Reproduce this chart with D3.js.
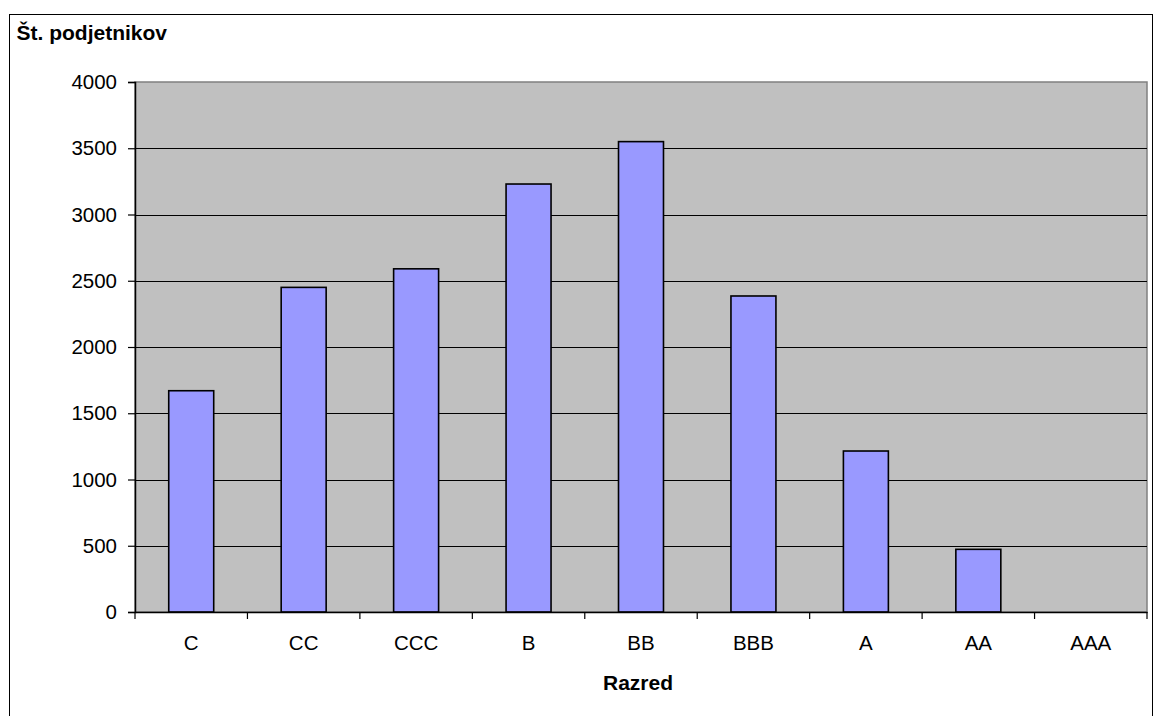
<!DOCTYPE html>
<html>
<head>
<meta charset="utf-8">
<script src="https://cdn.jsdelivr.net/npm/d3@7"></script>
<style>
  html, body { margin: 0; padding: 0; background: #fff; }
  svg { display: block; }
  text { font-family: Arial, "Liberation Sans", sans-serif; fill: #000; }
</style>
</head>
<body>
<svg id="chart" width="1154" height="716"></svg>
<script>
// Number of entrepreneurs per rating class
const categories = ["C", "CC", "CCC", "B", "BB", "BBB", "A", "AA", "AAA"];
const counts = [1670, 2450, 2590, 3230, 3550, 2385, 1215, 473, 0];
const yTicks = [0, 500, 1000, 1500, 2000, 2500, 3000, 3500, 4000];
const yTitle = "Št. podjetnikov";
const xTitle = "Razred";

const svg = d3.select("#chart");

// Chart frame
svg.append("rect")
  .attr("x", 9.5).attr("y", 14.5)
  .attr("width", 1143).attr("height", 720)
  .attr("fill", "#fff").attr("stroke", "#000").attr("stroke-width", 1);

const plot = { left: 135, right: 1147, top: 82, bottom: 612 };

const x = d3.scaleBand()
  .domain(categories)
  .range([plot.left, plot.right])
  .paddingInner(0.6)
  .paddingOuter(0.3);

const y = d3.scaleLinear()
  .domain([0, 4000])
  .range([plot.bottom, plot.top]);

// Plot area background
svg.append("rect")
  .attr("x", plot.left).attr("y", plot.top)
  .attr("width", plot.right - plot.left).attr("height", plot.bottom - plot.top)
  .attr("fill", "#c0c0c0").attr("stroke", "#808080").attr("stroke-width", 1.5);

// Horizontal gridlines
svg.append("g")
  .selectAll("line")
  .data(yTicks.filter(t => t > 0 && t < 4000))
  .join("line")
  .attr("x1", plot.left).attr("x2", plot.right)
  .attr("y1", d => Math.round(y(d)) + 0.5).attr("y2", d => Math.round(y(d)) + 0.5)
  .attr("stroke", "#000").attr("stroke-width", 1);

// Bars
svg.append("g")
  .selectAll("rect")
  .data(categories.map((c, i) => ({ c, v: counts[i] })).filter(d => d.v > 0))
  .join("rect")
  .attr("x", d => x(d.c))
  .attr("y", d => y(d.v))
  .attr("width", x.bandwidth())
  .attr("height", d => y(0) - y(d.v))
  .attr("fill", "#9999ff")
  .attr("stroke", "#000")
  .attr("stroke-width", 1.6);

// Y axis
const yAxis = d3.axisLeft(y)
  .tickValues(yTicks)
  .tickSize(7)
  .tickPadding(11)
  .tickFormat(d3.format("d"));

const gy = svg.append("g")
  .attr("transform", `translate(${plot.left},0)`)
  .call(yAxis);
gy.select(".domain").attr("stroke", "#000").attr("stroke-width", 1.5);
gy.selectAll(".tick line").attr("stroke", "#000").attr("stroke-width", 1.2);
gy.selectAll(".tick text")
  .attr("font-size", "20.5px")
  .attr("font-family", "Arial, 'Liberation Sans', sans-serif")
  .attr("fill", "#000");

// X axis with ticks on category boundaries
const xAxis = d3.axisBottom(x).tickSize(0).tickPadding(23);
const gx = svg.append("g")
  .attr("transform", `translate(0,${plot.bottom})`)
  .call(xAxis);
gx.select(".domain").attr("stroke", "#000").attr("stroke-width", 1.5);
gx.selectAll(".tick text")
  .attr("font-size", "20.5px")
  .attr("font-family", "Arial, 'Liberation Sans', sans-serif")
  .attr("fill", "#000");

const step = x.step();
const boundaries = d3.range(categories.length + 1).map(i => plot.left + i * step);
gx.selectAll(".boundary")
  .data(boundaries)
  .join("line")
  .attr("class", "boundary")
  .attr("x1", d => d).attr("x2", d => d)
  .attr("y1", 0).attr("y2", 7)
  .attr("stroke", "#000").attr("stroke-width", 1.2);

// Axis titles
svg.append("text")
  .attr("x", 16.5).attr("y", 40)
  .attr("font-size", "21px").attr("font-weight", "bold")
  .text(yTitle);

svg.append("text")
  .attr("x", (plot.left + plot.right) / 2 - 3).attr("y", 690)
  .attr("text-anchor", "middle")
  .attr("font-size", "21px").attr("font-weight", "bold")
  .text(xTitle);
</script>
</body>
</html>
